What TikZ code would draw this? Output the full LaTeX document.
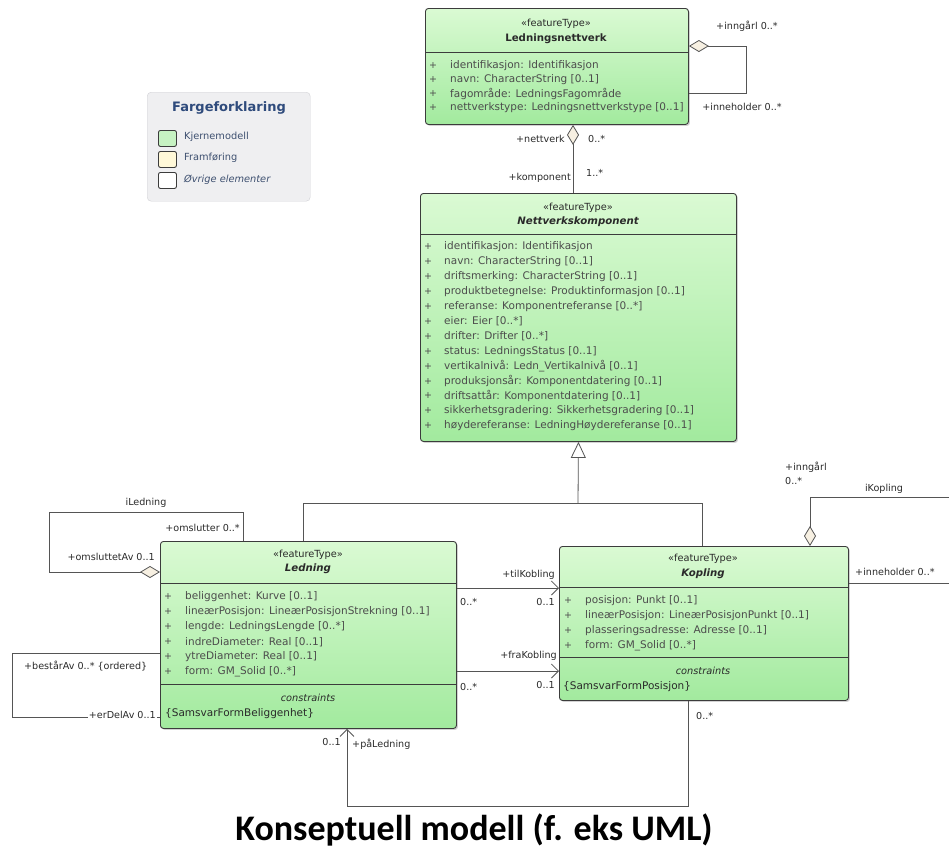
\documentclass[tikz,border=0pt]{standalone}
\usepackage{fontspec}
\setmainfont{DejaVu Sans}
\newfontfamily\titlefont{Carlito}
\usetikzlibrary{arrows.meta,shadows}

\definecolor{clsTop}{HTML}{DAFAD3}
\definecolor{clsBot}{HTML}{A2EA9E}
\definecolor{clsLine}{HTML}{3C3C3C}
\definecolor{txtDark}{HTML}{2A2A2A}
\definecolor{txtAttr}{HTML}{4C4C4C}
\definecolor{wireCol}{HTML}{555555}
\definecolor{diaFill}{HTML}{F7F0E2}
\definecolor{legFill}{HTML}{EFEFF1}
\definecolor{legLine}{HTML}{D2D2D6}
\definecolor{legTitle}{HTML}{2F4B7C}
\definecolor{legText}{HTML}{3E5070}
\definecolor{swGreen}{HTML}{C6F2C2}
\definecolor{swCream}{HTML}{FFF8D8}

\tikzset{
  clsbox/.style={draw=clsLine, line width=0.9pt, rounded corners=3pt,
    top color=clsTop, bottom color=clsBot, anchor=north west, inner sep=0pt,
    drop shadow={shadow xshift=1.5pt, shadow yshift=-1.5pt, opacity=0.35}},
  sepline/.style={draw=clsLine, line width=0.9pt},
  stereo/.style={font=\fontsize{9.8}{11}\selectfont, text=txtDark, inner sep=0pt},
  cname/.style={font=\fontsize{10.2}{12}\selectfont\bfseries, text=txtDark, inner sep=0pt},
  attr/.style={font=\fontsize{10.5}{12}\selectfont, text=txtAttr, anchor=west, inner sep=0pt},
  plus/.style={font=\fontsize{9.5}{12}\selectfont, text=txtAttr, inner sep=0pt},
  lbl/.style={font=\fontsize{9.6}{11}\selectfont, text=txtDark, inner sep=0pt},
  wire/.style={draw=wireCol, line width=0.8pt},
  agg/.style={wire, arrows={Diamond[length=20pt,width=12pt,fill=diaFill]-}},
  nav/.style={wire, arrows={-Straight Barb[length=7pt,width=14pt]}},
  gen/.style={wire, arrows={-Triangle[length=16pt,width=15pt,fill=white]}},
  swatch/.style={draw=clsLine, line width=0.9pt, rounded corners=2pt, anchor=north west,
    minimum width=18pt, minimum height=16pt, inner sep=0pt},
  legtxt/.style={font=\fontsize{9.8}{11}\selectfont, text=legText, anchor=west, inner sep=0pt}
}

\begin{document}
\begin{tikzpicture}[x=1pt,y=-1pt]
\fill[white] (0,0) rectangle (949,857);
\useasboundingbox (0,0) rectangle (949,857);

% ---------- legend ----------
\node[draw=legLine, fill=legFill, rounded corners=4pt, anchor=north west,
      minimum width=163pt, minimum height=109pt, inner sep=0pt] (legend) at (147,92) {};
\node[font=\fontsize{13}{15}\selectfont\bfseries, text=legTitle, inner sep=0pt] (legtitle) at (229,108) {Fargeforklaring};
\node[swatch, fill=swGreen] (sw1) at (158,130) {};
\node[swatch, fill=swCream] (sw2) at (158,151) {};
\node[swatch, fill=white]   (sw3) at (158,172) {};
\node[legtxt] (lg1) at (184,137) {Kjernemodell};
\node[legtxt] (lg2) at (184,158) {Framføring};
\node[legtxt] (lg3) at (184,180) {\itshape Øvrige elementer};

% ---------- Ledningsnettverk ----------
\node[clsbox, minimum width=263pt, minimum height=116pt] (lnv) at (425,8) {};
\node[stereo] (lnv-st) at (556,24) {«featureType»};
\node[cname]  (lnv-nm) at (556,39) {Ledningsnettverk};
\draw[sepline] (lnv.west |- 0,52) -- (lnv.east |- 0,52);
\foreach \t [count=\i] in {identifikasjon: Identifikasjon, navn: CharacterString [0..1],
    fagområde: LedningsFagområde, nettverkstype: Ledningsnettverkstype [0..1]}{
  \node[plus] (lnv-p\i) at (433,{66+14*(\i-1)}) {+};
  \node[attr] (lnv-a\i) at (450,{66+14*(\i-1)}) {\t};
}

% ---------- Nettverkskomponent ----------
\node[clsbox, minimum width=316pt, minimum height=248pt] (nk) at (420,193) {};
\node[stereo] (nk-st) at (578,208) {«featureType»};
\node[cname]  (nk-nm) at (578,222) {\itshape Nettverkskomponent};
\draw[sepline] (nk.west |- 0,234) -- (nk.east |- 0,234);
\foreach \t [count=\i] in {identifikasjon: Identifikasjon, navn: CharacterString [0..1],
    driftsmerking: CharacterString [0..1], produktbetegnelse: Produktinformasjon [0..1],
    referanse: Komponentreferanse [0..*], eier: Eier [0..*], drifter: Drifter [0..*],
    status: LedningsStatus [0..1], vertikalnivå: Ledn\_Vertikalnivå [0..1],
    produksjonsår: Komponentdatering [0..1], driftsattår: Komponentdatering [0..1],
    sikkerhetsgradering: Sikkerhetsgradering [0..1],
    høydereferanse: LedningHøydereferanse [0..1]}{
  \node[plus] (nk-p\i) at (428,{247+14.9*(\i-1)}) {+};
  \node[attr] (nk-a\i) at (444,{247+14.9*(\i-1)}) {\t};
}

% ---------- Ledning ----------
\node[clsbox, minimum width=296pt, minimum height=187pt] (led) at (160,541) {};
\node[stereo] (led-st) at (308,555) {«featureType»};
\node[cname]  (led-nm) at (308,569) {\itshape Ledning};
\draw[sepline] (led.west |- 0,583) -- (led.east |- 0,583);
\foreach \t [count=\i] in {beliggenhet: Kurve [0..1],
    lineærPosisjon: LineærPosisjonStrekning [0..1], lengde: LedningsLengde [0..*],
    indreDiameter: Real [0..1], ytreDiameter: Real [0..1], form: GM\_Solid [0..*]}{
  \node[plus] (led-p\i) at (168,{597+15*(\i-1)}) {+};
  \node[attr] (led-a\i) at (185,{597+15*(\i-1)}) {\t};
}
\draw[sepline] (led.west |- 0,684) -- (led.east |- 0,684);
\node[stereo] (led-cs) at (308,698) {\itshape constraints};
\node[attr, text=txtDark] (led-c1) at (165,714) {\{SamsvarFormBeliggenhet\}};

% ---------- Kopling ----------
\node[clsbox, minimum width=289pt, minimum height=154pt] (kop) at (559,546) {};
\node[stereo] (kop-st) at (703,559) {«featureType»};
\node[cname]  (kop-nm) at (703,574) {\itshape Kopling};
\draw[sepline] (kop.west |- 0,587) -- (kop.east |- 0,587);
\foreach \t [count=\i] in {posisjon: Punkt [0..1], lineærPosisjon: LineærPosisjonPunkt [0..1],
    plasseringsadresse: Adresse [0..1], form: GM\_Solid [0..*]}{
  \node[plus] (kop-p\i) at (568,{601+15*(\i-1)}) {+};
  \node[attr] (kop-a\i) at (585,{601+15*(\i-1)}) {\t};
}
\draw[sepline] (kop.west |- 0,657) -- (kop.east |- 0,657);
\node[stereo] (kop-cs) at (703,671) {\itshape constraints};
\node[attr, text=txtDark] (kop-c1) at (563,687) {\{SamsvarFormPosisjon\}};

% ---------- Ledningsnettverk self aggregation ----------
\coordinate (lnvA) at (746,46);
\coordinate (lnvB) at (746,93);
\draw[agg] (lnv.east |- lnvA) -- (lnvA) -- (lnvB) -- (lnv.east |- lnvB);
\node[lbl] (l-inngar1) at (747,26) {+inngårl 0..*};
\node[lbl] (l-innehold1) at (742,107) {+inneholder 0..*};

% ---------- nettverk / komponent ----------
\coordinate (nkx) at (573,0);
\draw[agg] (lnv.south -| nkx) -- (nk.north -| nkx);
\node[lbl, anchor=east] (l-nettverk) at (565,139) {+nettverk};
\node[lbl, anchor=west] (l-nett-m) at (588,139) {0..*};
\node[lbl, anchor=east] (l-komp) at (571,178) {+komponent};
\node[lbl, anchor=west] (l-komp-m) at (586,173) {1..*};

% ---------- generalisation ----------
\coordinate (genj) at (578,503);
\coordinate (genL) at (303,0);
\coordinate (genR) at (702,0);
\draw[gen] (genj) -- (nk.south);
\draw[wire] (led.north -| genL) |- (genj) -| (kop.north -| genR);

% ---------- iLedning ----------
\coordinate (ilA) at (49,572);
\coordinate (ilB) at (49,512);
\coordinate (ilC) at (243,512);
\draw[agg] (led.west |- ilA) -- (ilA) -- (ilB) -- (ilC) -- (led.north -| ilC);
\node[lbl] (l-iled) at (146,503) {iLedning};
\node[lbl, anchor=east] (l-omsl) at (240,528) {+omslutter 0..*};
\node[lbl, anchor=east] (l-omslAv) at (155,557) {+omsluttetAv 0..1};

% ---------- bestårAv / erDelAv ----------
\coordinate (baA) at (12,653);
\coordinate (baB) at (12,717);
\draw[wire] (led.west |- baA) -- (baA) -- (baB) -- (led.west |- baB);
\node[lbl, anchor=west] (l-bestar) at (24,666) {+bestårAv 0..* \{ordered\}};
\node[lbl, anchor=east, fill=white, inner xsep=1pt] (l-erdel) at (157,715) {+erDelAv 0..1};

% ---------- tilKobling / fraKobling ----------
\coordinate (tkY) at (0,588);
\coordinate (fkY) at (0,671);
\draw[nav] (led.east |- tkY) -- (kop.west |- tkY);
\draw[nav] (led.east |- fkY) -- (kop.west |- fkY);
\node[lbl, anchor=east] (l-til) at (555,575) {+tilKobling};
\node[lbl, anchor=west] (l-til-m1) at (460,602) {0..*};
\node[lbl, anchor=east] (l-til-m2) at (555,602) {0..1};
\node[lbl, anchor=east] (l-fra) at (557,656) {+fraKobling};
\node[lbl, anchor=west] (l-fra-m1) at (460,687) {0..*};
\node[lbl, anchor=east] (l-fra-m2) at (555,685) {0..1};

% ---------- påLedning ----------
\coordinate (plR) at (688,806);
\coordinate (plL) at (347,0);
\draw[nav] (kop.south -| plR) -- (plR) -| (led.south -| plL);
\node[lbl, anchor=east] (l-pal-m) at (341,742) {0..1};
\node[lbl, anchor=west] (l-pal) at (352,744) {+påLedning};
\node[lbl, anchor=west] (l-pal-m2) at (696,716) {0..*};

% ---------- iKopling ----------
\coordinate (ikA) at (810,497);
\coordinate (ikEnd) at (949,497);
\coordinate (ihY) at (0,583);
\coordinate (ihEnd) at (949,583);
\draw[agg] (kop.north -| ikA) -- (ikA) -- (ikEnd);
\draw[wire] (kop.east |- ihY) -- (ihEnd);
\node[lbl, anchor=west] (l-inngar2) at (785,467) {+inngårl};
\node[lbl, anchor=west] (l-inngar2m) at (785,481) {0..*};
\node[lbl] (l-ikop) at (884,489) {iKopling};
\node[lbl, anchor=west] (l-innehold2) at (855,572) {+inneholder 0..*};

% ---------- caption ----------
\node[font=\titlefont\bfseries\fontsize{36}{40}\selectfont, text=black, inner sep=0pt]
  (title) at (474,830) {Konseptuell modell (f. eks UML)};
\end{tikzpicture}
\end{document}
